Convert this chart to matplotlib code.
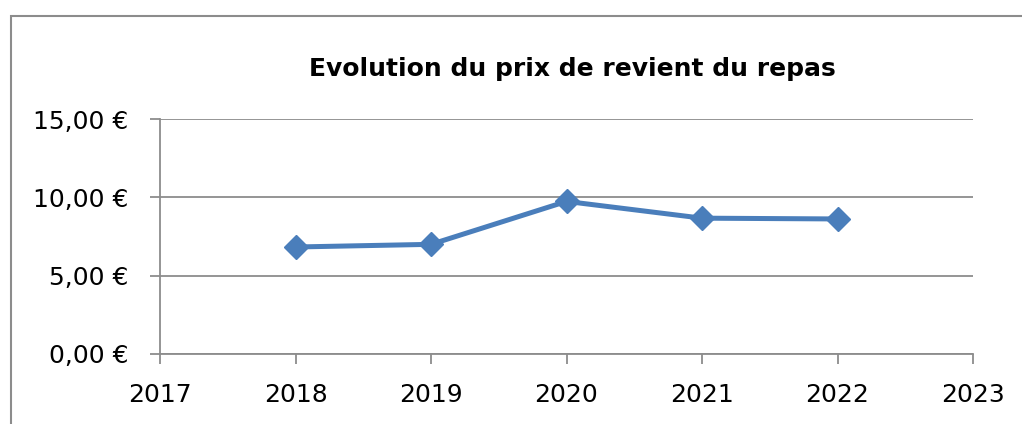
import matplotlib
matplotlib.use("Agg")
import matplotlib.pyplot as plt
from matplotlib.patches import Rectangle
from matplotlib.ticker import FuncFormatter

# data
years = [2018, 2019, 2020, 2021, 2022]
prix = [6.83, 7.00, 9.74, 8.67, 8.62]
y_ticks = [0, 5, 10, 15]
x_ticks = [2017, 2018, 2019, 2020, 2021, 2022, 2023]
title = "Evolution du prix de revient du repas"

plt.rcParams["font.family"] = ["DejaVu Sans"]

fig = plt.figure(figsize=(10.22, 4.24), dpi=100, facecolor="white")
W, H = 1022, 424

# outer chart frame (cropped at right and bottom)
fig.patches.append(Rectangle((11 / W, -0.1), 1.2, 1 - 16 / H + 0.1,
                             transform=fig.transFigure, fill=False,
                             edgecolor="#8c8c8c", linewidth=1.5))

ax = fig.add_axes([160 / W, 1 - 354 / H, (973 - 160) / W, (354 - 119) / H])
ax.plot(years, prix, color="#4a7ebb", linewidth=3.6, marker="D",
        markersize=12, zorder=3)

ax.set_xlim(2017, 2023)
ax.set_ylim(0, 15)
ax.set_xticks(x_ticks)
ax.set_yticks(y_ticks)
ax.yaxis.set_major_formatter(FuncFormatter(lambda v, p: f"{v:.2f}".replace(".", ",") + " €"))
ax.grid(axis="y", color="#8c8c8c", linewidth=1.3)
ax.set_axisbelow(True)

for side in ["top", "right"]:
    ax.spines[side].set_visible(False)
for side in ["left", "bottom"]:
    ax.spines[side].set_color("#8c8c8c")
    ax.spines[side].set_linewidth(1.3)

ax.tick_params(axis="both", colors="#8c8c8c", width=1.3, length=7, direction="out",
               labelcolor="black", labelsize=18)
ax.tick_params(axis="x", pad=14)
ax.tick_params(axis="y", pad=16)

fig.text(572 / W, 1 - 76 / H, title, ha="center", va="baseline",
         fontsize=18, fontweight="bold")

fig.savefig("out.png", dpi=100, facecolor="white")
